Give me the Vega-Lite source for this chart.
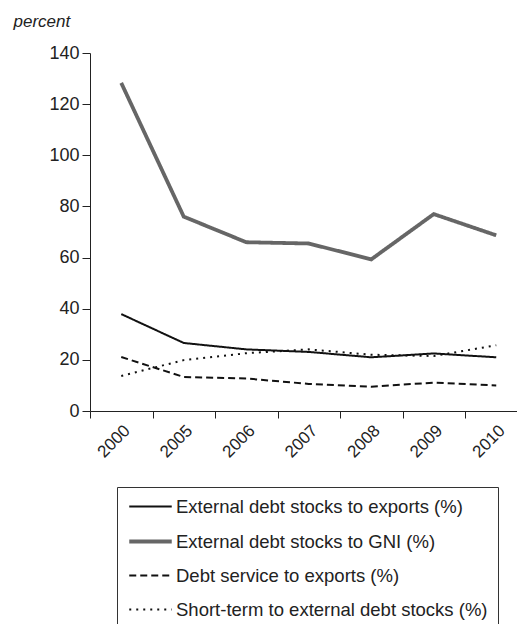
{
  "$schema": "https://vega.github.io/schema/vega-lite/v6.json",
  "autosize": "none",
  "padding": {"left": 90, "top": 53, "right": 0, "bottom": 213},
  "width": 437.5,
  "height": 358,
  "background": "white",
  "config": {
    "font": "Liberation Sans",
    "view": {"stroke": null},
    "legend": {
      "orient": "none",
      "legendX": 27,
      "legendY": 434,
      "strokeColor": "#333",
      "padding": 10,
      "rowPadding": 15,
      "labelFontSize": 18.5,
      "labelColor": "#222",
      "labelOffset": 15,
      "symbolType": "M-2.5,0H2.5",
      "symbolSize": 289,
      "symbolOffset": 13,
      "labelLimit": 500
    }
  },
  "data": {
    "values": [
      {"year": "2000", "series": "External debt stocks to exports (%)", "value": 37.9},
      {"year": "2005", "series": "External debt stocks to exports (%)", "value": 26.6},
      {"year": "2006", "series": "External debt stocks to exports (%)", "value": 24.1},
      {"year": "2007", "series": "External debt stocks to exports (%)", "value": 23.1},
      {"year": "2008", "series": "External debt stocks to exports (%)", "value": 21.0},
      {"year": "2009", "series": "External debt stocks to exports (%)", "value": 22.5},
      {"year": "2010", "series": "External debt stocks to exports (%)", "value": 21.0},
      {"year": "2000", "series": "External debt stocks to GNI (%)", "value": 128.3},
      {"year": "2005", "series": "External debt stocks to GNI (%)", "value": 76.0},
      {"year": "2006", "series": "External debt stocks to GNI (%)", "value": 66.0},
      {"year": "2007", "series": "External debt stocks to GNI (%)", "value": 65.5},
      {"year": "2008", "series": "External debt stocks to GNI (%)", "value": 59.3},
      {"year": "2009", "series": "External debt stocks to GNI (%)", "value": 77.0},
      {"year": "2010", "series": "External debt stocks to GNI (%)", "value": 68.7},
      {"year": "2000", "series": "Debt service to exports (%)", "value": 21.1},
      {"year": "2005", "series": "Debt service to exports (%)", "value": 13.3},
      {"year": "2006", "series": "Debt service to exports (%)", "value": 12.7},
      {"year": "2007", "series": "Debt service to exports (%)", "value": 10.6},
      {"year": "2008", "series": "Debt service to exports (%)", "value": 9.5},
      {"year": "2009", "series": "Debt service to exports (%)", "value": 11.1},
      {"year": "2010", "series": "Debt service to exports (%)", "value": 10.0},
      {"year": "2000", "series": "Short-term to external debt stocks (%)", "value": 13.7},
      {"year": "2005", "series": "Short-term to external debt stocks (%)", "value": 19.9},
      {"year": "2006", "series": "Short-term to external debt stocks (%)", "value": 22.6},
      {"year": "2007", "series": "Short-term to external debt stocks (%)", "value": 24.1},
      {"year": "2008", "series": "Short-term to external debt stocks (%)", "value": 22.0},
      {"year": "2009", "series": "Short-term to external debt stocks (%)", "value": 21.5},
      {"year": "2010", "series": "Short-term to external debt stocks (%)", "value": 25.7}
    ]
  },
  "mark": {"type": "line"},
  "encoding": {
    "x": {
      "field": "year",
      "type": "ordinal",
      "scale": {"type": "band", "paddingInner": 0, "paddingOuter": 0},
      "axis": {
        "title": null,
        "labelAngle": -45,
        "labelFontSize": 17,
        "labelColor": "#222",
        "tickBand": "extent",
        "tickSize": 7,
        "tickColor": "#222",
        "domainColor": "#222",
        "labelPadding": 4
      }
    },
    "y": {
      "field": "value",
      "type": "quantitative",
      "scale": {"domain": [0, 140], "nice": false},
      "axis": {
        "values": [0, 20, 40, 60, 80, 100, 120, 140],
        "grid": false,
        "tickSize": 8,
        "tickColor": "#222",
        "domainColor": "#222",
        "labelFontSize": 18,
        "labelColor": "#222",
        "labelPadding": 3,
        "title": "percent",
        "titleAngle": 0,
        "titleFontStyle": "italic",
        "titleFontWeight": "normal",
        "titleFontSize": 17,
        "titleColor": "#222",
        "titleAlign": "left",
        "titleBaseline": "alphabetic",
        "titleX": -77,
        "titleY": -27
      }
    },
    "color": {
      "field": "series",
      "type": "nominal",
      "title": null,
      "scale": {
        "domain": ["External debt stocks to exports (%)", "External debt stocks to GNI (%)", "Debt service to exports (%)", "Short-term to external debt stocks (%)"],
        "range": ["#111111", "#666666", "#111111", "#111111"]
      }
    },
    "strokeDash": {
      "field": "series",
      "type": "nominal",
      "title": null,
      "scale": {
        "domain": ["External debt stocks to exports (%)", "External debt stocks to GNI (%)", "Debt service to exports (%)", "Short-term to external debt stocks (%)"],
        "range": [[1, 0], [1, 0], [7, 4], [2, 5]]
      }
    },
    "strokeWidth": {
      "field": "series",
      "type": "nominal",
      "title": null,
      "scale": {
        "type": "ordinal",
        "domain": ["External debt stocks to exports (%)", "External debt stocks to GNI (%)", "Debt service to exports (%)", "Short-term to external debt stocks (%)"],
        "range": [2, 3.8, 2, 2]
      }
    }
  }
}
